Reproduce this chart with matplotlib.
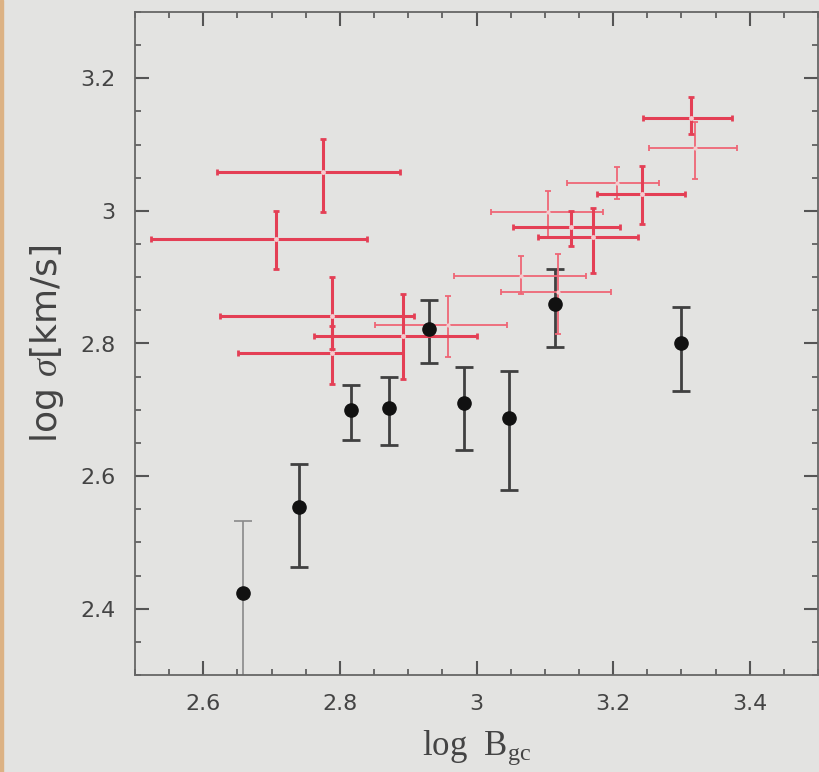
import numpy as np
import matplotlib
matplotlib.use("Agg")
import matplotlib.pyplot as plt
from matplotlib.ticker import MultipleLocator
from matplotlib.patches import Rectangle

# -----------------------------
# Data
# -----------------------------
# black points: log B_gc, log sigma, lower / upper end of the error bar
blk_x = [2.658, 2.740, 2.816, 2.872, 2.931, 2.982, 3.047, 3.115, 3.299]
blk_y = [2.424, 2.553, 2.700, 2.702, 2.822, 2.710, 2.687, 2.860, 2.800]
blk_lo = [2.220, 2.463, 2.655, 2.647, 2.771, 2.640, 2.579, 2.794, 2.729]
blk_hi = [2.532, 2.618, 2.737, 2.749, 2.865, 2.764, 2.758, 2.912, 2.855]
blk_col = ["#8a8a8a", "#404040", "#404040", "#404040", "#404040",
           "#404040", "#404040", "#404040", "#404040"]

# red crosses, thick set
red_x = [2.775, 2.707, 2.788, 2.788, 2.893, 3.314, 3.243, 3.139, 3.170]
red_y = [3.058, 2.958, 2.842, 2.785, 2.812, 3.140, 3.026, 2.975, 2.960]
red_xlo = [2.620, 2.523, 2.625, 2.651, 2.762, 3.244, 3.176, 3.053, 3.090]
red_xhi = [2.888, 2.840, 2.909, 2.893, 3.001, 3.374, 3.306, 3.210, 3.237]
red_ylo = [2.998, 2.912, 2.792, 2.739, 2.746, 3.116, 2.980, 2.947, 2.907]
red_yhi = [3.108, 3.000, 2.900, 2.827, 2.874, 3.172, 3.068, 3.000, 3.004]

# red crosses, thin set
pink_x = [2.958, 3.320, 3.206, 3.105, 3.065, 3.119]
pink_y = [2.828, 3.095, 3.042, 2.998, 2.902, 2.877]
pink_xlo = [2.851, 3.253, 3.132, 3.021, 2.967, 3.036]
pink_xhi = [3.044, 3.382, 3.267, 3.185, 3.161, 3.197]
pink_ylo = [2.779, 3.048, 3.018, 2.960, 2.874, 2.814]
pink_yhi = [2.872, 3.134, 3.066, 3.030, 2.932, 2.935]

xticks = [2.6, 2.8, 3.0, 3.2, 3.4]
xticklabels = ["2.6", "2.8", "3", "3.2", "3.4"]
yticks = [2.4, 2.6, 2.8, 3.0, 3.2]
yticklabels = ["2.4", "2.6", "2.8", "3", "3.2"]

# -----------------------------
# Style
# -----------------------------
plt.rcParams["mathtext.fontset"] = "custom"
plt.rcParams["mathtext.rm"] = "Liberation Serif"
plt.rcParams["mathtext.it"] = "Liberation Serif:italic"

bg = "#e3e3e1"
fig = plt.figure(figsize=(8.19, 7.72), dpi=100, facecolor=bg)
ax = fig.add_axes([135 / 819, 1 - 675 / 772, 683 / 819, 663 / 772])
ax.set_facecolor(bg)

# thin tan strip on the left edge of the scan
fig.patches.append(Rectangle((0, 0), 3 / 819, 1, transform=fig.transFigure,
                             color="#dcb284", zorder=0))


def err(c, lo, hi):
    c, lo, hi = np.array(c), np.array(lo), np.array(hi)
    return np.vstack([c - lo, hi - c])


# red crosses
ax.errorbar(pink_x, pink_y, xerr=err(pink_x, pink_xlo, pink_xhi),
            yerr=err(pink_y, pink_ylo, pink_yhi), fmt="o", ms=3,
            mfc="#f7c9cd", mec="none", ecolor="#ef6676", elinewidth=1.3,
            capsize=2, capthick=1.3, zorder=3)
ax.errorbar(red_x, red_y, xerr=err(red_x, red_xlo, red_xhi),
            yerr=err(red_y, red_ylo, red_yhi), fmt="o", ms=3.5,
            mfc="#f7c9cd", mec="none", ecolor="#e43f55", elinewidth=2.2,
            capsize=2, capthick=2, zorder=4)

# black points
for x, y, lo, hi, c in zip(blk_x, blk_y, blk_lo, blk_hi, blk_col):
    lw = 1.2 if c == "#8a8a8a" else 2.0
    ax.errorbar([x], [y], yerr=[[y - lo], [hi - y]], fmt="none", ecolor=c,
                elinewidth=lw, capsize=6.5, capthick=lw, zorder=2)
ax.plot(blk_x, blk_y, "o", color="#111111", ms=9.5, zorder=5)

# -----------------------------
# Axes
# -----------------------------
ax.set_xlim(2.5, 3.5)
ax.set_ylim(2.3, 3.3)
ax.set_xticks(xticks)
ax.set_xticklabels(xticklabels)
ax.set_yticks(yticks)
ax.set_yticklabels(yticklabels)
ax.xaxis.set_minor_locator(MultipleLocator(0.05))
ax.yaxis.set_minor_locator(MultipleLocator(0.05))
ax.tick_params(which="both", direction="in", top=True, right=True,
               color="#555555")
ax.tick_params(which="major", length=10, width=1.5, labelsize=16,
               labelcolor="#444444", pad=14)
ax.tick_params(which="minor", length=4.5, width=1.2)
for s in ax.spines.values():
    s.set_color("#666666")
    s.set_linewidth(1.3)

ax.set_xlabel(r"log  B$_{\mathrm{gc}}$", family="Liberation Serif",
              fontsize=25, color="#444444", labelpad=10)
ax.set_ylabel(r"log $\sigma$[km/s]", family="DejaVu Sans", fontsize=26,
              color="#444444", labelpad=10)

plt.savefig("out.png", dpi=100, facecolor=bg)
